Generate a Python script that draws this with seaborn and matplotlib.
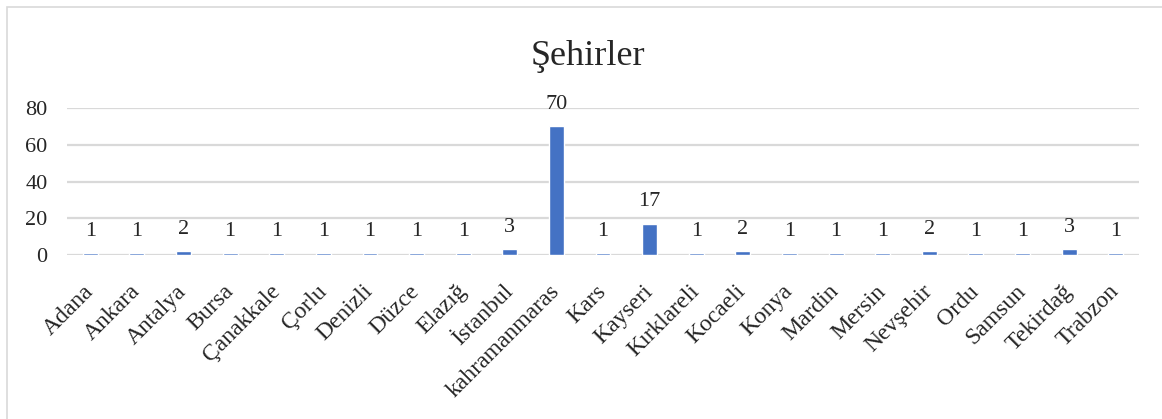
import matplotlib
matplotlib.use("Agg")
import matplotlib.pyplot as plt
from matplotlib.patches import Rectangle
import seaborn as sns

# data
cities = ["Adana", "Ankara", "Antalya", "Bursa", "Çanakkale", "Çorlu", "Denizli",
          "Düzce", "Elazığ", "İstanbul", "kahramanmaras", "Kars", "Kayseri",
          "Kırklareli", "Kocaeli", "Konya", "Mardin", "Mersin", "Nevşehir",
          "Ordu", "Samsun", "Tekirdağ", "Trabzon"]
counts = [1, 1, 2, 1, 1, 1, 1, 1, 1, 3, 70, 1, 17, 1, 2, 1, 1, 1, 2, 1, 1, 3, 1]
y_ticks = [0, 20, 40, 60, 80]

sns.set_style("white")
plt.rcParams['font.family'] = ['Liberation Serif', 'DejaVu Serif']

fig = plt.figure(figsize=(11.62, 4.19), dpi=100)
ax = fig.add_axes([0.0577, 0.3914, 0.9225, 0.3508])

sns.barplot(x=cities, y=counts, color="#4472C4", saturation=1, width=0.32, ax=ax)

ax.set_xlim(-0.5, len(cities) - 0.5)
ax.set_ylim(0, 80)
ax.set_yticks(y_ticks)
ax.yaxis.grid(True, color="#d9d9d9", linewidth=1.6)
ax.set_axisbelow(True)
for s in ax.spines.values():
    s.set_visible(False)
ax.tick_params(axis="both", length=0)
ax.tick_params(axis="y", pad=14, labelsize=16)
ax.tick_params(axis="x", pad=24, labelsize=17)
plt.setp(ax.get_xticklabels(), rotation=45, ha="right", va="center",
         rotation_mode="anchor")
ax.set_xlabel("")
ax.set_ylabel("")

ax.bar_label(ax.containers[0], labels=[str(v) for v in counts], padding=9, fontsize=16)

fig.text(0.506, 0.845, "Şehirler", ha="center", va="baseline", fontsize=26)

# chart frame
fig.patches.append(Rectangle((7 / 1162, -0.05), 1.1, (419 - 7) / 419 + 0.05,
                             transform=fig.transFigure, fill=False,
                             edgecolor="#d9d9d9", linewidth=1.2))

plt.savefig("out.png", dpi=100)
